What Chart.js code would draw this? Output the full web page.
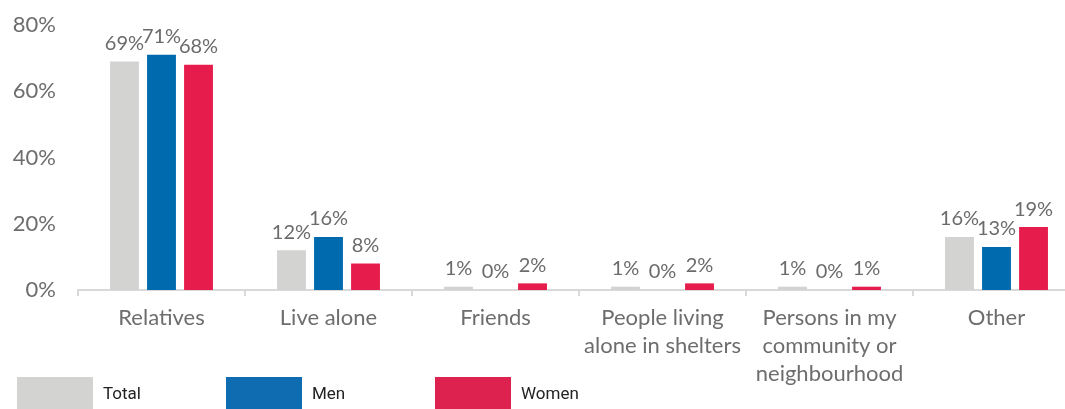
<!DOCTYPE html>
<html><head><meta charset="utf-8">
<script src="https://cdn.jsdelivr.net/npm/chart.js@4/dist/chart.umd.min.js"></script>
<style>
html,body{margin:0;padding:0;background:#fff;overflow:hidden;width:1065px;height:409px;}
#wrap{position:relative;width:1090px;height:409px;}
</style></head>
<body><div id="wrap"><canvas id="c"></canvas></div>
<script>
const categories = [["Relatives"],["Live alone"],["Friends"],["People living","alone in shelters"],["Persons in my","community or","neighbourhood"],["Other"]];
const seriesNames = ["Total","Men","Women"];
const totalValues = [69,12,1,1,1,16];
const menValues = [71,16,0,0,0,13];
const womenValues = [68,8,2,2,1,19];
const yTicks = [0,20,40,60,80];
const colors = ["#d3d3d1","#006aaf","#e61c4c"];
const legendColors = ["#d3d3d1","#0f6cb0","#de2250"];

const valueLabels = {
  id:'valueLabels',
  afterDatasetsDraw(chart){
    const ctx = chart.ctx;
    ctx.save();
    ctx.font = '20px Lato';
    ctx.fillStyle = '#6b6b6b';
    ctx.textAlign = 'center';
    ctx.textBaseline = 'bottom';
    chart.data.datasets.forEach((ds,i)=>{
      chart.getDatasetMeta(i).data.forEach((bar,j)=>{
        ctx.fillText(ds.data[j]+'%', bar.x, bar.y-8);
      });
    });
    ctx.restore();
  }
};
const customLegend = {
  id:'customLegend',
  afterDraw(chart){
    const ctx = chart.ctx;
    ctx.save();
    ctx.font = '17px Roboto';
    ctx.textBaseline = 'middle';
    ctx.textAlign = 'left';
    chart.data.datasets.forEach((ds,i)=>{
      const x = 17 + i*209;
      ctx.fillStyle = legendColors[i];
      ctx.fillRect(x, 377, 76, 32);
      ctx.fillStyle = '#222';
      ctx.fillText(ds.label, x+86, 395);
    });
    ctx.restore();
  }
};

new Chart(document.getElementById('c'), {
  type:'bar',
  data:{
    labels: categories,
    datasets:[
      {label:seriesNames[0], data:totalValues, backgroundColor:colors[0]},
      {label:seriesNames[1], data:menValues, backgroundColor:colors[1]},
      {label:seriesNames[2], data:womenValues, backgroundColor:colors[2]}
    ]
  },
  options:{
    responsive:true, maintainAspectRatio:false, animation:false,
    categoryPercentage:0.665, barPercentage:0.78,
    layout:{padding:{top:0,right:10,bottom:0,left:0}},
    plugins:{legend:{display:false}, tooltip:{enabled:false}},
    scales:{
      x:{
        grid:{display:true, drawOnChartArea:false, offset:true, tickLength:6, color:'#d9d9d9', lineWidth:2},
        border:{color:'#d9d9d9', width:2},
        ticks:{color:'#6d6d6d', font:{family:'Lato', size:22, lineHeight:1.27}, padding:8, maxRotation:0, autoSkip:false},
        afterFit(s){ s.height = 119; }
      },
      y:{
        min:0, max:80,
        afterBuildTicks(s){ s.ticks = yTicks.map(v=>({value:v})); },
        grid:{display:false},
        border:{display:false},
        ticks:{color:'#6d6d6d', font:{family:'Lato', size:22, lineHeight:1.0}, padding:14, callback:v=>v+'%'},
        afterFit(s){ s.width = 78; }
      }
    }
  },
  plugins:[valueLabels, customLegend]
});
</script></body></html>
